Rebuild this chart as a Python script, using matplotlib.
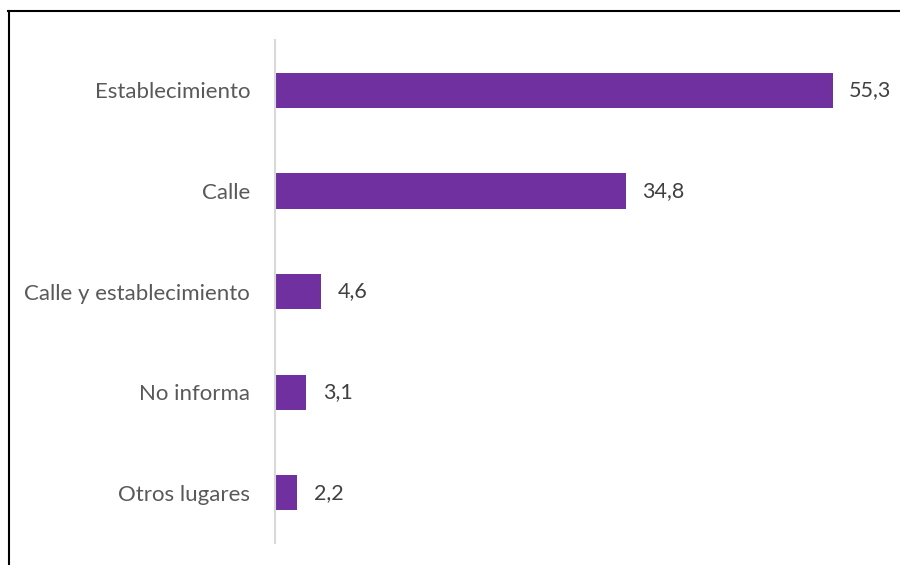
import matplotlib.pyplot as plt
from matplotlib.lines import Line2D

categories = ['Establecimiento', 'Calle', 'Calle y establecimiento', 'No informa', 'Otros lugares']
values = [55.3, 34.8, 4.6, 3.1, 2.2]
labels = ['55,3', '34,8', '4,6', '3,1', '2,2']

plt.rcParams['font.family'] = ['Lato', 'DejaVu Sans']

fig = plt.figure(figsize=(9, 5.65), dpi=100)
ax = fig.add_axes([0.3056, 0.0389, 0.6722, 0.8903])

ypos = list(range(len(categories)))
ax.barh(ypos, values, height=0.35, color='#7030a0')
for y, v, t in zip(ypos, values, labels):
    ax.text(v + 1.65, y, t, va='center', ha='left', fontsize=15.5, color='#404040')

ax.set_ylim(len(categories) - 0.5, -0.5)
ax.set_xlim(0, 60)
ax.set_yticks(ypos)
ax.set_yticklabels(categories, fontsize=16, color='#595959')
ax.tick_params(axis='y', length=0, pad=18)
ax.set_xticks([])
for s in ['top', 'right', 'bottom']:
    ax.spines[s].set_visible(False)
ax.spines['left'].set_color('#d9d9d9')
ax.spines['left'].set_linewidth(1.5)

# outer frame (left and top edges only visible)
fig.add_artist(Line2D([8.5 / 900, 8.5 / 900], [0, 1 - 11 / 565], color='black', lw=1.5, transform=fig.transFigure))
fig.add_artist(Line2D([8 / 900, 1], [1 - 11 / 565, 1 - 11 / 565], color='black', lw=1.5, transform=fig.transFigure))

fig.savefig('out.png', dpi=100)
